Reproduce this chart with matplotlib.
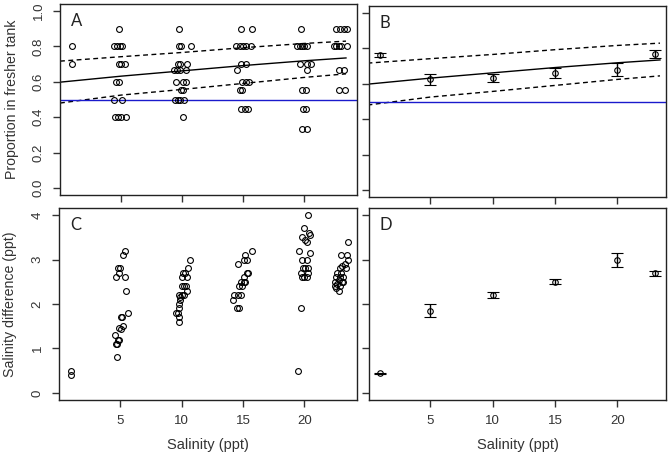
import matplotlib
matplotlib.use('Agg')
import matplotlib.pyplot as plt
import numpy as np

# ---- Panel A: individual proportions (jittered salinity) ----
a_sal = [0.95, 0.95,
         4.85, 4.45, 4.7, 4.9, 5.1, 4.8, 5.0, 5.35, 4.6, 4.8, 4.4, 5.1, 4.5, 4.75, 5.0, 5.4,
         9.7, 9.7, 9.9, 10.7, 9.65, 9.85, 10.4, 9.3, 9.6, 9.85, 10.3, 9.5, 10.1, 10.3,
         9.9, 10.1, 9.4, 9.65, 9.85, 10.15, 10.05,
         14.8, 15.75, 14.4, 14.7, 14.95, 15.25, 15.6, 14.85, 15.25, 14.5, 14.9, 15.2, 15.45,
         14.7, 14.9, 14.85, 15.15, 15.4,
         19.7, 19.4, 19.6, 19.8, 20.0, 20.2, 19.65, 20.2, 20.5, 20.2, 19.8, 20.15,
         19.9, 20.1, 19.8, 20.2,
         22.6, 22.9, 23.2, 23.5, 22.4, 22.6, 22.8, 23.0, 23.5, 22.8, 23.2, 22.8, 23.3]
a_prop = [0.8, 0.7,
          0.9, 0.8, 0.8, 0.8, 0.8, 0.7, 0.7, 0.7, 0.6, 0.6, 0.5, 0.5, 0.4, 0.4, 0.4, 0.4,
          0.9, 0.8, 0.8, 0.8, 0.7, 0.7, 0.7, 0.667, 0.667, 0.667, 0.667, 0.6, 0.6, 0.6,
          0.556, 0.556, 0.5, 0.5, 0.5, 0.5, 0.4,
          0.9, 0.9, 0.8, 0.8, 0.8, 0.8, 0.8, 0.7, 0.7, 0.667, 0.6, 0.6, 0.6,
          0.556, 0.556, 0.444, 0.444, 0.444,
          0.9, 0.8, 0.8, 0.8, 0.8, 0.8, 0.7, 0.7, 0.7, 0.667, 0.556, 0.556,
          0.444, 0.444, 0.333, 0.333,
          0.9, 0.9, 0.9, 0.9, 0.8, 0.8, 0.8, 0.8, 0.8, 0.667, 0.667, 0.556, 0.556]

# model fit with confidence band
fit_sal = [0, 5, 10, 15, 20, 23.4]
fit_mean = [0.598, 0.632, 0.662, 0.692, 0.719, 0.735]
fit_hi = [0.717, 0.742, 0.766, 0.793, 0.817, 0.830]
fit_lo = [0.480, 0.525, 0.557, 0.591, 0.625, 0.645]
null_prop = 0.5

# ---- Panel B: mean proportion +/- SE ----
b_sal = [1, 5, 10, 15, 20, 23]
b_mean = [0.764, 0.625, 0.633, 0.660, 0.680, 0.768]
b_err = [0.012, 0.030, 0.023, 0.029, 0.037, 0.023]

# ---- Panel C: individual salinity differences ----
c_sal = [1.0, 1.0,
         5.4, 5.25, 4.85, 4.95, 4.9, 4.65, 5.35, 5.45, 5.6, 5.05, 5.15, 5.2, 4.9, 5.05,
         4.6, 4.8, 4.9, 4.65, 4.75, 4.7,
         10.7, 10.5, 10.3, 10.15, 10.0, 10.4, 10.0, 10.2, 10.35, 10.4, 9.8, 10.0, 10.2,
         9.9, 9.9, 9.8, 9.8, 9.55, 9.7, 9.8, 9.75,
         15.7, 15.2, 15.05, 15.3, 14.6, 15.45, 15.3, 15.1, 14.85, 15.05, 15.2, 14.7, 14.9,
         14.6, 14.85, 14.3, 14.2, 14.5, 14.65,
         20.3, 20.0, 20.4, 19.8, 20.1, 20.5, 20.2, 19.6, 20.5, 19.8, 20.2, 19.9, 20.1,
         20.3, 19.7, 20.3, 19.8, 20.0, 20.25, 19.7, 19.5,
         23.55, 23.0, 23.45, 23.6, 23.3, 23.1, 22.9, 23.4, 22.7, 23.0, 22.6, 22.9, 23.2,
         22.8, 23.1, 22.5, 22.7, 22.5, 22.9, 22.6, 22.8, 23.2]
c_diff = [0.5, 0.4,
          3.2, 3.1, 2.8, 2.8, 2.7, 2.6, 2.6, 2.3, 1.8, 1.7, 1.7, 1.5, 1.45, 1.43,
          1.3, 1.2, 1.2, 1.1, 1.1, 0.8,
          3.0, 2.8, 2.7, 2.7, 2.6, 2.6, 2.4, 2.4, 2.4, 2.3, 2.2, 2.2, 2.2,
          2.15, 2.1, 2.0, 1.9, 1.8, 1.8, 1.7, 1.6,
          3.2, 3.1, 3.0, 3.0, 2.9, 2.7, 2.7, 2.6, 2.5, 2.5, 2.5, 2.4, 2.4,
          2.2, 2.2, 2.2, 2.1, 1.9, 1.9,
          4.0, 3.7, 3.6, 3.5, 3.45, 3.55, 3.4, 3.2, 3.15, 3.0, 3.0, 2.8, 2.8,
          2.8, 2.7, 2.7, 2.6, 2.6, 2.6, 1.9, 0.5,
          3.4, 3.1, 3.1, 3.0, 2.9, 2.85, 2.8, 2.8, 2.7, 2.7, 2.6, 2.6, 2.6,
          2.55, 2.5, 2.5, 2.45, 2.4, 2.4, 2.35, 2.3, 2.5]

# ---- Panel D: mean salinity difference +/- SE ----
d_sal = [1, 5, 10, 15, 20, 23]
d_mean = [0.44, 1.85, 2.20, 2.50, 2.99, 2.69]
d_err = [0.01, 0.15, 0.06, 0.06, 0.15, 0.055]

x_ticks = [5, 10, 15, 20]
prop_ticks = [0.0, 0.2, 0.4, 0.6, 0.8, 1.0]
diff_ticks = [0, 1, 2, 3, 4]

text_col = '#333333'
plt.rcParams['font.family'] = ['Liberation Sans', 'DejaVu Sans']

fig = plt.figure(figsize=(6.69, 4.55), dpi=100)
axA = fig.add_axes([0.0897, 0.5714, 0.4439, 0.4198])
axB = fig.add_axes([0.5516, 0.5670, 0.4439, 0.4198])
axC = fig.add_axes([0.0882, 0.1209, 0.4454, 0.4220])
axD = fig.add_axes([0.5516, 0.1209, 0.4439, 0.4220])

circ = dict(marker='o', mfc='none', mec='black', mew=0.8, ms=4.2, ls='none')
dash = (0, (3.5, 2.5))

# A: raw proportions with fitted line and band
axA.plot(a_sal, a_prop, **circ, zorder=3)
axA.plot(fit_sal, fit_mean, color='black', lw=1)
axA.plot(fit_sal, fit_hi, color='black', lw=1, ls=dash)
axA.plot(fit_sal, fit_lo, color='black', lw=1, ls=dash)
axA.axhline(null_prop, color='#1a1acc', lw=1)

# B: means +/- SE with the same fit
axB.errorbar(b_sal, b_mean, yerr=b_err, fmt='o', mfc='none', mec='black', mew=0.8,
             ms=4, ecolor='black', elinewidth=1, capsize=4, capthick=1, zorder=3)
axB.plot(fit_sal, fit_mean, color='black', lw=1)
axB.plot(fit_sal, fit_hi, color='black', lw=1, ls=dash)
axB.plot(fit_sal, fit_lo, color='black', lw=1, ls=dash)
axB.axhline(null_prop, color='#1a1acc', lw=1)

# C: raw salinity differences
axC.plot(c_sal, c_diff, **circ)

# D: means +/- SE
axD.errorbar(d_sal, d_mean, yerr=d_err, fmt='o', mfc='none', mec='black', mew=0.8,
             ms=4, ecolor='black', elinewidth=1, capsize=4, capthick=1)

for ax in (axA, axC):
    ax.set_xlim(0.0, 24.3)
for ax in (axB, axD):
    ax.set_xlim(0.12, 23.88)
for ax in (axA, axB):
    ax.set_ylim(-0.04, 1.04)
    ax.set_yticks(prop_ticks)
for ax in (axC, axD):
    ax.set_ylim(-0.16, 4.16)
    ax.set_yticks(diff_ticks)

for ax, lab in zip((axA, axB, axC, axD), 'ABCD'):
    ax.set_xticks(x_ticks)
    ax.tick_params(length=5, width=1, color='#333333', labelsize=9.5,
                   labelcolor=text_col, pad=6)
    ax.tick_params(axis='y', labelrotation=90)
    for t in ax.get_yticklabels():
        t.set_va('center')
    for s in ax.spines.values():
        s.set_linewidth(1)
        s.set_edgecolor('#222222')
    ax.text(0.055, 0.91, lab, transform=ax.transAxes, ha='center', va='center',
            fontsize=12, family=['Lato', 'DejaVu Sans'], color='#222222')

axA.tick_params(labelbottom=False)
axB.tick_params(labelbottom=False, labelleft=False)
axD.tick_params(labelleft=False)

fig.text(0.018, 0.781, 'Proportion in fresher tank', rotation=90, ha='center',
         va='center', fontsize=10.2, color=text_col)
fig.text(0.015, 0.332, 'Salinity difference (ppt)', rotation=90, ha='center',
         va='center', fontsize=10.2, color=text_col)
fig.text(0.311, 0.022, 'Salinity (ppt)', ha='center', va='center', fontsize=10.5,
         color=text_col)
fig.text(0.774, 0.022, 'Salinity (ppt)', ha='center', va='center', fontsize=10.5,
         color=text_col)

plt.savefig('out.png', dpi=100)
